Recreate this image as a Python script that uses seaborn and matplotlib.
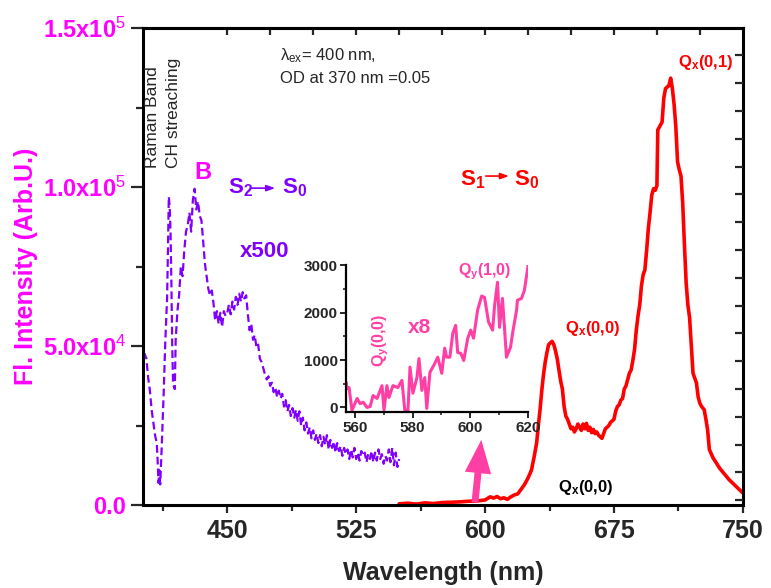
import matplotlib
matplotlib.use('Agg')
import matplotlib.pyplot as plt
import seaborn as sns
import numpy as np

# B band (S2 -> S0), x500, dashed purple
wl_b = [401, 402, 403, 404, 405, 406, 407, 408, 409, 409.5, 410, 410.5, 411, 412, 413, 414, 415,
        415.5, 416, 416.5, 417, 417.5, 418, 418.5, 419.5, 420, 421, 422, 423, 424, 425, 426, 427,
        428, 429, 430, 431, 432, 433, 434, 435, 436, 437, 438, 439, 440, 441, 442, 443, 444, 445,
        446, 447, 448, 449, 450, 451, 452, 453, 454, 455, 456, 457, 458, 459, 460, 461, 462, 463,
        464, 465, 466, 467, 468, 469, 470, 471, 472, 473, 474, 475, 476, 477, 478, 479, 480, 481,
        482, 483, 484, 485, 486, 487, 488, 489, 490, 491, 492, 493, 494, 495, 496, 497, 498, 499,
        500, 501, 502, 503, 504, 505, 506, 507, 508, 509, 510, 511, 512, 513, 514, 515, 516, 517,
        518, 519, 520, 521, 522, 523, 524, 525, 526, 527, 528, 529, 530, 531, 532, 533, 534, 535,
        536, 537, 538, 539, 540, 541, 542, 543, 544, 545, 546, 547, 548, 549, 550]
fl_b = [48000, 47500, 46000, 40000, 36000, 30000, 26000, 22000, 19500, 14000, 7000, 11000, 6500,
        20000, 35000, 52000, 65000, 80000, 97000, 94000, 86000, 70000, 50000, 38000, 36500, 52000,
        61000, 66000, 75000, 72000, 80000, 86000, 88000, 92000, 86000, 96000, 99500, 93000, 95500,
        91000, 89500, 83000, 76000, 72000, 68000, 66000, 67500, 63500, 58000, 61000, 57000, 60500,
        56000, 61000, 59500, 60500, 63000, 60000, 64000, 61500, 65500, 63000, 66500, 64000, 67000,
        65000, 66000, 60000, 55000, 57000, 52000, 53500, 49500, 50500, 46000, 45000, 43000, 41000,
        39500, 40500, 37500, 38500, 35500, 37000, 34000, 36000, 33500, 35000, 31000, 33000, 29500,
        31500, 28000, 30500, 27500, 30000, 26500, 29500, 25000, 27500, 23500, 26000, 22500, 24500,
        21000, 23500, 20500, 22500, 19500, 22000, 18500, 21500, 19000, 22000, 17500, 20500, 18000,
        20000, 16500, 19500, 17000, 18500, 15500, 18000, 16000, 17500, 14500, 17500, 15000, 18000,
        14500, 16500, 14000, 17000, 15500, 16500, 13500, 16000, 14500, 17000, 13500, 16500, 14000,
        17500, 14500, 16000, 13000, 15500, 14000, 17500, 13500, 18000, 12500, 16500, 12000, 14500]

# Q bands (S1 -> S0), red
wl_q = [550, 555, 560, 565, 570, 575, 580, 585, 590, 595, 600, 603, 605, 607, 609, 611, 613, 615,
        617, 619, 621, 623, 625, 627, 628.5, 630, 631, 632, 633, 634, 635, 636, 637, 638, 639, 640,
        641, 642, 643, 644, 645, 646, 647, 648, 649, 650, 651, 652, 653, 654, 655, 656, 657, 658,
        659, 660, 661, 662, 663, 664, 665, 666, 667, 668, 669, 670, 671, 672, 673, 674, 675, 676,
        677, 678, 679, 680, 681, 682, 683, 684, 685, 686, 687, 688, 689, 690, 691, 692, 693, 694,
        695, 696, 697, 698, 699, 700, 700.5, 702, 703, 704, 705, 706, 707, 708, 709, 710, 711, 712,
        713, 714, 715, 716, 717, 718, 719, 720, 721, 722, 723, 724, 725, 726, 727.5, 728.5, 729.5,
        730.5, 732.5, 736.5, 742, 750]
fl_q = [400, 600, 300, 700, 500, 800, 900, 1000, 1200, 1300, 1600, 2600, 2200, 2700, 2000, 2300,
        1800, 2600, 3200, 3500, 5000, 6500, 8500, 11000, 15000, 19500, 25000, 30000, 36000, 41000,
        45000, 48000, 50500, 51000, 51500, 50500, 48500, 46000, 42500, 39000, 36500, 31000, 28000,
        27000, 25500, 24000, 24500, 23000, 24000, 25500, 24500, 23500, 25500, 24000, 25700, 23500,
        24500, 22800, 23800, 22500, 23000, 22000, 21500, 21000, 22500, 24000, 24500, 25000, 26000,
        26500, 27000, 29500, 31000, 31500, 33000, 33500, 36500, 37500, 39500, 41500, 42500, 45500,
        49000, 55000, 59500, 63000, 69000, 72500, 74000, 80000, 87000, 92000, 97500, 99500, 99000,
        100500, 118000, 119500, 120500, 128000, 131000, 131500, 132000, 134300, 131000, 126000,
        119000, 108000, 105500, 103500, 95000, 82000, 70000, 63000, 59000, 50000, 41500, 40000,
        38400, 34000, 32000, 31000, 30000, 27000, 23600, 17500, 15000, 11600, 8000, 3800]

# inset: Qy region x8
wl_in = [557, 557.3, 558, 559, 560.8, 561.8, 562.9, 564.2, 565.3, 566.3, 567.7, 569.4, 570.1,
         571.1, 571.8, 573.2, 574.9, 576.3, 577.3, 578.4, 579.1, 580.1, 581.5, 582.2, 583.2, 584.2,
         584.9, 586, 587.7, 588.7, 590.1, 591.1, 591.8, 592.9, 593.9, 594.9, 595.6, 596.7, 597.7,
         599.1, 600.1, 601.1, 602.5, 603.9, 604.9, 606.3, 607.7, 608.4, 609.4, 610.1, 611.1, 611.8,
         612.5, 613.9, 614.6, 616, 616.3, 617.7, 618.7, 620]
fl_in = [530, 400, 420, -60, 190, 80, 110, 0, 20, 250, 190, 460, -60, 460, 210, 460, 420, 570, -60,
         -60, 850, 300, 630, 1030, 360, 630, -20, 740, 930, 1060, 720, 1250, 1060, 1060, 1560, 1730,
         1160, 1140, 990, 1460, 1630, 1460, 2050, 2350, 2320, 1800, 1630, 2160, 2640, 1690, 2300,
         1690, 1060, 1270, 1560, 2050, 2260, 2300, 2470, 3000]

ytick_vals = [0, 5e4, 1e5, 1.5e5]
ytick_text = ['0.0', '5.0x10$^{\\mathrm{4}}$', '1.0x10$^{\\mathrm{5}}$', '1.5x10$^{\\mathrm{5}}$']
xtick_vals = [450, 525, 600, 675, 750]

MAG = '#FF00FF'
PURP = '#8000FF'
RED = '#FF0000'
PINK = '#FF3FA4'

sns.set_style('ticks')
plt.rcParams['font.family'] = ['Liberation Sans', 'DejaVu Sans']
plt.rcParams['mathtext.fontset'] = 'custom'
plt.rcParams['mathtext.rm'] = 'Liberation Sans'
plt.rcParams['mathtext.it'] = 'Liberation Sans:italic'
plt.rcParams['mathtext.bf'] = 'Liberation Sans:bold'
plt.rcParams['mathtext.default'] = 'regular'

fig = plt.figure(figsize=(7.71, 5.88), dpi=100)
ax = fig.add_axes([0.1855, 0.141, 0.778, 0.811])

sns.lineplot(x=wl_b, y=fl_b, ax=ax, color=PURP, lw=1.6, linestyle=(0, (3.5, 1.8)), estimator=None)
sns.lineplot(x=wl_q, y=fl_q, ax=ax, color=RED, lw=2.6, estimator=None)

ax.set_xlim(401, 750)
ax.set_ylim(0, 1.5e5)
ax.set_xticks(xtick_vals)
ax.set_xticks([412.5, 487.5, 562.5, 637.5, 712.5], minor=True)
ax.set_xticklabels([str(v) for v in xtick_vals], fontsize=18, fontweight='bold')
ax.set_yticks(ytick_vals)
ax.set_yticks([2.5e4, 7.5e4, 1.25e5], minor=True)
ax.set_yticklabels(ytick_text, fontsize=17, fontweight='bold', color=MAG)
ax.tick_params(axis='y', which='major', length=9, width=1.6, direction='out', pad=3)
ax.tick_params(axis='y', which='minor', length=5, width=1.6, direction='out')
ax.tick_params(axis='x', which='major', length=6, width=1.6, direction='out', pad=4)
ax.tick_params(axis='x', which='minor', length=4, width=1.6, direction='out')
for s in ax.spines.values():
    s.set_linewidth(2.2)
    s.set_color('black')

ax.set_xlabel('Wavelength (nm)', fontsize=18, fontweight='bold', labelpad=13)
ax.set_ylabel('Fl. Intensity (Arb.U.)', fontsize=18, fontweight='bold', color=MAG, labelpad=4)

# right and top tick marks (no labels)
ax2 = ax.twinx()
ax2.set_ylim(-0.18, 16.98)
ax2.set_yticks(range(17))
ax2.tick_params(axis='y', direction='in', length=6, width=1.6, labelright=False)
for s in ax2.spines.values():
    s.set_visible(False)
top = ax.secondary_xaxis('top')
top.set_xticks(list(range(450, 750, 25)))
top.tick_params(direction='in', length=5, width=1.6, labeltop=False)
top.spines['top'].set_linewidth(2.2)

# annotations
ax.text(406.5, 106000, 'Raman Band', rotation=90, fontsize=12.5, va='bottom', ha='center')
ax.text(418.8, 106000, 'CH streaching', rotation=90, fontsize=12.5, va='bottom', ha='center')
ax.text(480.7, 140000, '$\\lambda_{ex}$= 400 nm,', fontsize=12)
ax.text(480.7, 132700, 'OD at 370 nm =0.05', fontsize=12)
ax.text(435.9, 104700, 'B', fontsize=17, fontweight='bold', color=MAG, ha='center', va='center')

ax.text(450.4, 98100, 'S$_2$', fontsize=16, fontweight='bold', color=PURP)
ax.annotate('', xy=(479.5, 99700), xytext=(462.5, 99700),
            arrowprops=dict(arrowstyle='-|>,head_length=0.5,head_width=0.18', color=PURP, lw=1.2))
ax.text(481.8, 98100, 'S$_0$', fontsize=16, fontweight='bold', color=PURP)
ax.text(457.4, 78000, 'x500', fontsize=16, fontweight='bold', color=PURP)

ax.text(585.3, 100600, 'S$_1$', fontsize=16, fontweight='bold', color=RED)
ax.annotate('', xy=(615.5, 103500), xytext=(598.8, 103500),
            arrowprops=dict(arrowstyle='-|>,head_length=0.5,head_width=0.18', color=RED, lw=1.2))
ax.text(616.7, 100600, 'S$_0$', fontsize=16, fontweight='bold', color=RED)

ax.text(712, 137700, 'Q$_x$(0,1)', fontsize=12, fontweight='bold', color=RED)
ax.text(646.3, 54100, 'Q$_x$(0,0)', fontsize=12, fontweight='bold', color=RED)
ax.text(642.3, 4100, 'Q$_x$(0,0)', fontsize=12, fontweight='bold', color='black')

ax.annotate('', xy=(598, 21400), xytext=(594, 0),
            arrowprops=dict(arrowstyle='simple,head_length=1.2,head_width=0.95,tail_width=0.25',
                            mutation_scale=20, color=PINK, lw=0))

# inset
axi = fig.add_axes([0.449, 0.299, 0.236, 0.25])
sns.lineplot(x=wl_in, y=fl_in, ax=axi, color=PINK, lw=2.2, estimator=None)
axi.set_xlim(557, 620)
axi.set_ylim(-100, 3000)
axi.set_xticks([560, 580, 600, 620])
axi.set_xticks([570, 590, 610], minor=True)
axi.set_yticks([0, 1000, 2000, 3000])
axi.set_yticks([500, 1500, 2500], minor=True)
axi.set_xticklabels(['560', '580', '600', '620'], fontsize=11, fontweight='bold')
axi.set_yticklabels(['0', '1000', '2000', '3000'], fontsize=11, fontweight='bold')
axi.tick_params(which='major', length=4, width=1.4, pad=2)
axi.tick_params(which='minor', length=2.5, width=1.2)
axi.patch.set_alpha(0)
sns.despine(ax=axi)
for s in ['left', 'bottom']:
    axi.spines[s].set_linewidth(1.6)
    axi.spines[s].set_color('black')
axi.text(595.6, 2790, 'Q$_y$(1,0)', fontsize=11.5, fontweight='bold', color=PINK)
axi.text(569, 845, 'Q$_y$(0,0)', fontsize=11.5, fontweight='bold', color=PINK,
         rotation=90, ha='center', va='bottom')
axi.text(578.4, 1560, 'x8', fontsize=15, fontweight='bold', color=PINK)

fig.savefig('out.png', dpi=100)
